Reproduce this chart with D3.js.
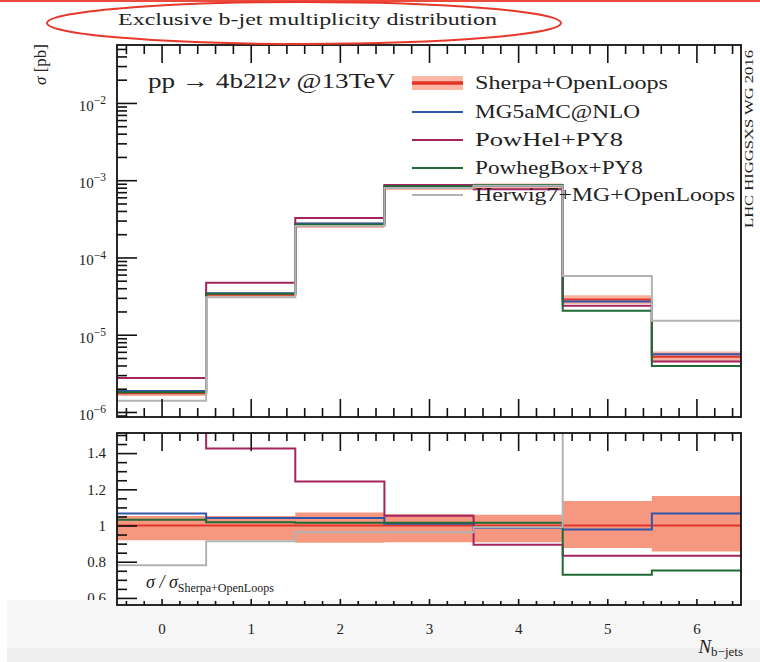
<!DOCTYPE html>
<html><head><meta charset="utf-8">
<script src="https://cdn.jsdelivr.net/npm/d3@7/dist/d3.min.js"></script>
<style>
body{margin:0;background:#fff;}
svg{display:block;}
text{font-family:"Liberation Serif","DejaVu Serif",serif;fill:#222;}
</style></head>
<body>
<script>
// ---------------- data ----------------
const bins = [0, 1, 2, 3, 4, 5, 6];
const xTickLabels = ["0", "1", "2", "3", "4", "5", "6"];
const seriesNames = ["Sherpa+OpenLoops", "MG5aMC@NLO", "PowHel+PY8", "PowhegBox+PY8", "Herwig7+MG+OpenLoops"];
const seriesColors = ["#e3342a", "#3355aa", "#a3245e", "#1f6a37", "#b3b3b3"];

// cross sections [pb]
const sherpa = [1.75e-6, 3.3e-5, 2.65e-4, 8.25e-4, 8.55e-4, 2.85e-5, 5.2e-6];
const mg5    = [1.87e-6, 3.44e-5, 2.75e-4, 8.3e-4, 8.45e-4, 2.7e-5, 5.6e-6];
const powhel = [2.75e-6, 4.7e-5, 3.25e-4, 8.7e-4, 7.65e-4, 2.37e-5, 4.5e-6];
const powheg = [1.8e-6, 3.4e-5, 2.68e-4, 8.38e-4, 8.68e-4, 2.05e-5, 3.95e-6];
const herwig = [1.4e-6, 3.05e-5, 2.55e-4, 7.9e-4, 8.45e-4, 5.75e-5, 1.52e-5];

// Sherpa uncertainty band (relative)
const bandLo = [0.918, 0.918, 0.905, 0.907, 0.907, 0.876, 0.857];
const bandHi = [1.052, 1.052, 1.072, 1.062, 1.060, 1.135, 1.163];

// ratios to Sherpa+OpenLoops
const sherpaRatio = [1, 1, 1, 1, 1, 1, 1];
const mg5Ratio    = [1.067, 1.041, 1.041, 1.01, 0.987, 0.978, 1.067];
const powhelRatio = [1.62, 1.426, 1.243, 1.054, 0.894, 0.833, 0.833];
const powhegRatio = [1.032, 1.018, 1.015, 1.015, 1.015, 0.728, 0.752];
const herwigRatio = [0.78, 0.913, 0.963, 0.963, 0.99, 2.02, 2.9];

const yTopMajor = [1e-6, 1e-5, 1e-4, 1e-3, 1e-2];
const yTopMajorExp = ["−6", "−5", "−4", "−3", "−2"];
const yRatMajor = [0.6, 0.8, 1.0, 1.2, 1.4];
const yRatLabels = ["0.6", "0.8", "1", "1.2", "1.4"];

// ---------------- layout ----------------
const W = 760, H = 662;
const L = 117, R = 741;
const topT = 45, topB = 417, ratT = 433, ratB = 605;

const svg = d3.select("body").append("svg").attr("width", W).attr("height", H);

const x = d3.scaleLinear().domain([-0.5, 6.5]).range([L, R]);
const yTop = d3.scaleLog().domain([Math.pow(10, -6.065), Math.pow(10, -1.25)]).range([topB, topT]);
const yRat = d3.scaleLinear().domain([0.561, 1.511]).range([ratB, ratT]);

const defs = svg.append("defs");
defs.append("clipPath").attr("id", "clipTop").append("rect").attr("x", L).attr("y", topT).attr("width", R - L).attr("height", topB - topT);
defs.append("clipPath").attr("id", "clipRat").append("rect").attr("x", L).attr("y", ratT).attr("width", R - L).attr("height", ratB - ratT);

function stepPts(vals) {
  const pts = vals.map((v, i) => [bins[i] - 0.5, v]);
  pts.push([bins[bins.length - 1] + 0.5, vals[vals.length - 1]]);
  return pts;
}

// ---------------- top panel ----------------
const gTop = svg.append("g").attr("clip-path", "url(#clipTop)");
const bandTopArea = d3.area().curve(d3.curveStepAfter)
  .x(d => x(d[0])).y0(d => yTop(d[1])).y1(d => yTop(d[2]));
const bandTopPts = sherpa.map((v, i) => [bins[i] - 0.5, v * bandLo[i], v * bandHi[i]]);
bandTopPts.push([6.5, sherpa[6] * bandLo[6], sherpa[6] * bandHi[6]]);
gTop.append("path").attr("d", bandTopArea(bandTopPts)).attr("fill", "#f7a58e").attr("opacity", 0.85);

const lineTop = d3.line().curve(d3.curveStepAfter).x(d => x(d[0])).y(d => yTop(d[1]));
const topSeries = [sherpa, mg5, powhel, powheg, herwig];
topSeries.forEach((s, k) => {
  gTop.append("path").attr("d", lineTop(stepPts(s))).attr("fill", "none")
    .attr("stroke", seriesColors[k]).attr("stroke-width", 2);
});

// ---------------- ratio panel ----------------
const gRat = svg.append("g").attr("clip-path", "url(#clipRat)");
const bandRatArea = d3.area().curve(d3.curveStepAfter)
  .x(d => x(d[0])).y0(d => yRat(d[1])).y1(d => yRat(d[2]));
const bandRatPts = bandLo.map((v, i) => [bins[i] - 0.5, v, bandHi[i]]);
bandRatPts.push([6.5, bandLo[6], bandHi[6]]);
gRat.append("path").attr("d", bandRatArea(bandRatPts)).attr("fill", "#f58c72").attr("opacity", 0.9);

const lineRat = d3.line().curve(d3.curveStepAfter).x(d => x(d[0])).y(d => yRat(d[1]));
const ratSeries = [sherpaRatio, mg5Ratio, powhelRatio, powhegRatio, herwigRatio];
ratSeries.forEach((s, k) => {
  gRat.append("path").attr("d", lineRat(stepPts(s))).attr("fill", "none")
    .attr("stroke", seriesColors[k]).attr("stroke-width", 2);
});

// ---------------- axes ----------------
function styleAxis(g) {
  g.select(".domain").remove();
  g.selectAll(".tick line").attr("stroke", "#111").attr("stroke-width", 1.6);
}
const xMajor = bins;
const xMinor = d3.range(-0.4, 6.5, 0.2).filter(v => Math.abs(v - Math.round(v)) > 0.05);

[[topT, d3.axisTop], [topB, d3.axisBottom]].forEach(([yy, ax]) => {
  svg.append("g").attr("transform", `translate(0,${yy})`)
    .call(ax(x).tickValues(xMajor).tickSize(-18).tickFormat("")).call(styleAxis);
  svg.append("g").attr("transform", `translate(0,${yy})`)
    .call(ax(x).tickValues(xMinor).tickSize(-9).tickFormat("")).call(styleAxis);
});
svg.append("g").attr("transform", `translate(0,${ratT})`)
  .call(d3.axisTop(x).tickValues(xMajor).tickSize(-18).tickFormat("")).call(styleAxis);
svg.append("g").attr("transform", `translate(0,${ratT})`)
  .call(d3.axisTop(x).tickValues(xMinor).tickSize(-8).tickFormat("")).call(styleAxis);

const yMinor = [];
for (let e = -7; e <= -1; e++) for (let k = 2; k <= 9; k++) {
  const v = k * Math.pow(10, e);
  if (v > yTop.domain()[0] && v < yTop.domain()[1]) yMinor.push(v);
}
svg.append("g").attr("transform", `translate(${L},0)`)
  .call(d3.axisLeft(yTop).tickValues(yMinor).tickSize(-10).tickFormat("")).call(styleAxis);
const yMajG = svg.append("g").attr("transform", `translate(${L},0)`)
  .call(d3.axisLeft(yTop).tickValues(yTopMajor).tickSize(-20).tickPadding(12).tickFormat(""))
  .call(styleAxis);
yMajG.selectAll(".tick text").each(function (d, i) {
  const t = d3.select(this).attr("text-anchor", "end").attr("x", -11).attr("dy", "0.5em")
    .style("font-size", "15px").attr("fill", "#333");
  t.append("tspan").text("10");
  t.append("tspan").attr("dy", "-0.6em").style("font-size", "11.5px").text(yTopMajorExp[i]);
});

const yRatMinor = d3.range(0.6, 1.51, 0.05).filter(v => Math.abs(v * 5 - Math.round(v * 5)) > 0.01);
svg.append("g").attr("transform", `translate(${L},0)`)
  .call(d3.axisLeft(yRat).tickValues(yRatMinor).tickSize(-10).tickFormat("")).call(styleAxis);
const yRatG = svg.append("g").attr("transform", `translate(${L},0)`)
  .call(d3.axisLeft(yRat).tickValues(yRatMajor).tickSize(-20).tickPadding(11)
    .tickFormat((d, i) => yRatLabels[i]))
  .call(styleAxis);
yRatG.selectAll(".tick text").style("font-size", "15px").attr("fill", "#333")
  .style("font-family", "'Liberation Serif',serif");

// grey strip at the bottom (screenshot background)
svg.append("rect").attr("x", 7).attr("y", 600).attr("width", W - 7).attr("height", 48).attr("fill", "#f7f7f7");
svg.append("rect").attr("x", 7).attr("y", 648).attr("width", W - 7).attr("height", 14).attr("fill", "#efefef");

svg.append("g").attr("transform", `translate(0,${ratB})`)
  .call(d3.axisBottom(x).tickValues(xMinor).tickSize(-4).tickFormat("")).call(styleAxis);
const xLab = svg.append("g").attr("transform", `translate(0,${ratB})`)
  .call(d3.axisBottom(x).tickValues(xMajor).tickSize(-6).tickPadding(18).tickFormat((d, i) => xTickLabels[i]))
  .call(styleAxis);
xLab.selectAll(".tick text").style("font-size", "15px").attr("fill", "#333")
  .style("font-family", "'Liberation Serif',serif");

// frames
svg.append("rect").attr("x", L).attr("y", topT).attr("width", R - L).attr("height", topB - topT)
  .attr("fill", "none").attr("stroke", "#111").attr("stroke-width", 1.8);
svg.append("rect").attr("x", L).attr("y", ratT).attr("width", R - L).attr("height", ratB - ratT)
  .attr("fill", "none").attr("stroke", "#111").attr("stroke-width", 1.8);

// ---------------- texts ----------------
svg.append("text").attr("x", 118).attr("y", 25).style("font-size", "17px")
  .attr("textLength", 379).attr("lengthAdjust", "spacingAndGlyphs")
  .text("Exclusive b-jet multiplicity distribution");

svg.append("text").attr("x", 148).attr("y", 88).style("font-size", "21px")
  .attr("textLength", 247).attr("lengthAdjust", "spacingAndGlyphs")
  .html('pp → 4b2l2<tspan font-style="italic">ν</tspan> @13TeV');

svg.append("text").attr("transform", "translate(46,44) rotate(-90)").attr("text-anchor", "end")
  .style("font-size", "17px").html('<tspan font-style="italic">σ</tspan> [pb]');

svg.append("text").attr("transform", "translate(753,228) rotate(-90)").style("font-size", "12.5px")
  .attr("textLength", 178).attr("lengthAdjust", "spacingAndGlyphs").text("LHC HIGGSXS WG 2016");

const rl = svg.append("text").attr("x", 146).attr("y", 588).style("font-size", "18px");
rl.append("tspan").attr("font-style", "italic").text("σ / σ");
rl.append("tspan").attr("dy", 4).style("font-size", "12px").text("Sherpa+OpenLoops");

const nl = svg.append("text").attr("x", 743).attr("y", 653).attr("text-anchor", "end").style("font-size", "19px");
nl.append("tspan").attr("font-style", "italic").text("N");
nl.append("tspan").attr("dy", 3).style("font-size", "13px").text("b−jets");

// legend
const legY = [83, 112, 140, 168, 195];
const legW = [193, 165, 148, 168, 260];
const leg = svg.append("g");
seriesNames.forEach((n, k) => {
  if (k === 0) {
    leg.append("rect").attr("x", 412).attr("y", legY[k] - 7).attr("width", 51).attr("height", 14).attr("fill", "#fbb7a3");
    leg.append("line").attr("x1", 412).attr("x2", 463).attr("y1", legY[k]).attr("y2", legY[k])
      .attr("stroke", seriesColors[k]).attr("stroke-width", 3.5);
  } else {
    leg.append("line").attr("x1", 412).attr("x2", 463).attr("y1", legY[k]).attr("y2", legY[k])
      .attr("stroke", seriesColors[k]).attr("stroke-width", 2);
  }
  leg.append("text").attr("x", 475).attr("y", legY[k] + 6).style("font-size", "19px")
    .attr("textLength", legW[k]).attr("lengthAdjust", "spacingAndGlyphs").text(n);
});

// annotation overlays from the screenshot
svg.append("line").attr("x1", 0).attr("x2", W).attr("y1", 1).attr("y2", 1).attr("stroke", "#ec4a3c").attr("stroke-width", 2);
svg.append("ellipse").attr("cx", 304).attr("cy", 23).attr("rx", 257).attr("ry", 21)
  .attr("fill", "none").attr("stroke", "#e8382c").attr("stroke-width", 2);
</script>
</body></html>
